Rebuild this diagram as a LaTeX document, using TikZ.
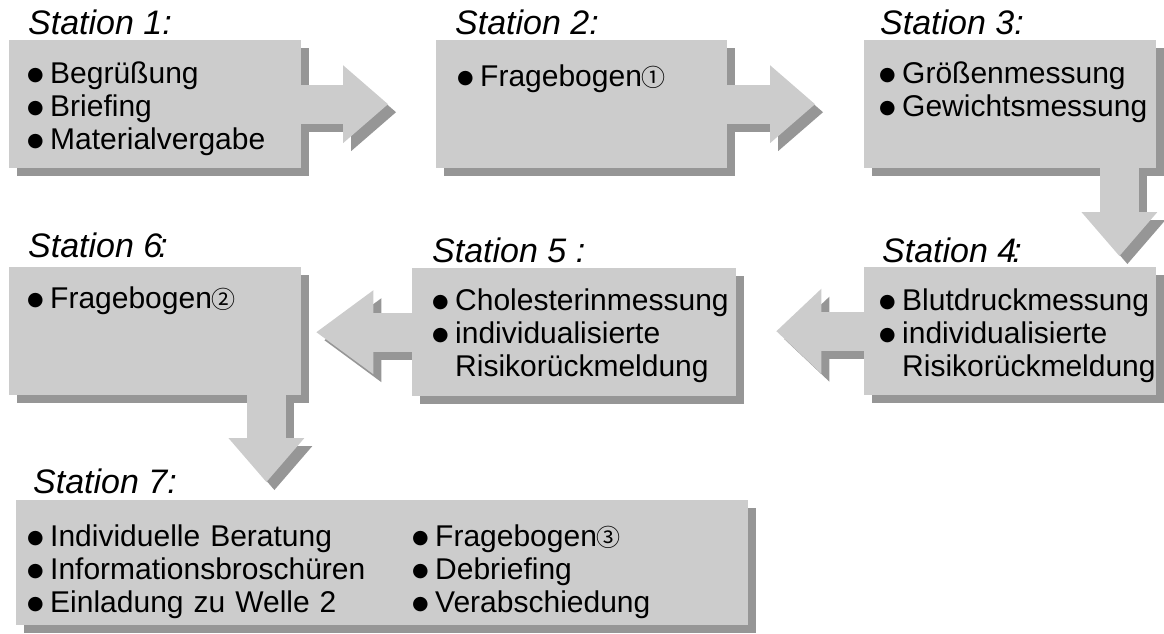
\documentclass[tikz,border=0pt]{standalone}
\usepackage{fontspec}
\setmainfont{Liberation Sans}
\newfontfamily\symfont{DejaVu Sans}
\newfontfamily\cjk{Noto Sans CJK JP}
\usetikzlibrary{arrows.meta}
\definecolor{BoxGray}{RGB}{204,204,204}
\definecolor{ShadeGray}{RGB}{150,150,150}
\pgfdeclarelayer{shade}
\pgfdeclarelayer{flows}
\pgfsetlayers{shade,flows,main}
\hyphenpenalty=10000
\newcommand\bodyfont{\fontsize{30}{33}\selectfont}
\newcommand\stationfont{\fontsize{34}{40}\selectfont\itshape}
\newcommand\bul{\makebox[23pt][l]{\raisebox{3pt}{\symfont\fontsize{19}{19}\selectfont ●}}}
\newcommand\nobul{\hspace*{23pt}}
\newcommand\circnum[1]{{\cjk\fontsize{24}{24}\selectfont #1}}

\begin{document}
\begin{tikzpicture}[x=1pt,y=-1pt,
  stationbox/.style={fill=BoxGray, anchor=north west, inner ysep=0pt, align=left,
    font=\bodyfont, text height=43pt, text depth=85pt},
  stationlabel/.style={anchor=base west, inner sep=0pt, font=\stationfont},
  flowface/.style={draw=BoxGray, line width=39pt},
  flowshade/.style={draw=ShadeGray, line width=39pt, transform canvas={xshift=8pt,yshift=-8pt}},
  flowtip/.style 2 args={-{Triangle[length=#1,width=#2,line width=0pt]}}]
  \useasboundingbox (0,0) rectangle (1164,634);

  % Stations, top row
  \node[stationbox, text width=256pt, inner xsep=18pt] (s1) at (9,40)
    {\bul Begrüßung\\\bul Briefing\\\bul Materialvergabe};
  \node[stationbox, text width=249pt, inner xsep=21pt, text height=46pt, text depth=82pt] (s2) at (436,40)
    {\bul Fragebogen\circnum{①}};
  \node[stationbox, text width=262pt, inner xsep=15pt] (s3) at (864,40)
    {\bul Größenmessung\\\bul Gewichtsmessung};

  % Stations, middle row
  \node[stationbox, text width=262pt, inner xsep=15pt] (s4) at (864,267)
    {\bul Blutdruckmessung\\\bul individualisierte\\\nobul Risikorückmeldung};
  \node[stationbox, text width=284pt, inner xsep=20pt, text height=42pt, text depth=86pt] (s5) at (412,268)
    {\bul Cholesterinmessung\\\bul individualisierte\\\nobul Risikorückmeldung};
  \node[stationbox, text width=256pt, inner xsep=18pt, text height=41pt, text depth=87pt] (s6) at (9,267)
    {\bul Fragebogen\circnum{②}};

  % Station 7
  \node[stationbox, text width=710pt, inner xsep=11pt, text height=46pt, text depth=79pt] (s7) at (16,500)
    {\begin{tabular}[t]{@{}p{385pt}@{}l@{}}
      \bul Individuelle Beratung & \bul Fragebogen\circnum{③}\\
      \bul Informationsbroschüren & \bul Debriefing\\
      \bul Einladung zu Welle 2 & \bul Verabschiedung
    \end{tabular}};

  % Labels
  \node[stationlabel] (l1) at ([xshift=19pt,yshift=5pt]s1.north west) {Station 1:};
  \node[stationlabel] (l2) at ([xshift=19pt,yshift=5pt]s2.north west) {Station 2:};
  \node[stationlabel] (l3) at ([xshift=16pt,yshift=5pt]s3.north west) {Station 3:};
  \node[stationlabel] (l4) at ([xshift=18pt,yshift=5pt]s4.north west) {Station 4\kern-4pt:};
  \node[stationlabel] (l5) at ([xshift=20pt,yshift=6pt]s5.north west) {Station 5 :};
  \node[stationlabel] (l6) at ([xshift=19pt,yshift=10pt]s6.north west) {Station 6\kern-4pt:};
  \node[stationlabel] (l7) at ([xshift=17pt,yshift=7pt]s7.north west) {Station 7:};

  \coordinate (c34) at ([xshift=-37pt]s3.south east);
  \coordinate (c67) at ([xshift=-35pt]s6.south east);

  % Shadows
  \begin{pgfonlayer}{shade}
    \foreach \s in {s1,s2,s3,s4,s5,s6,s7}
      \fill[ShadeGray] ([shift={(8,8)}]\s.north west) rectangle ([shift={(8,8)}]\s.south east);
    \draw[flowshade, flowtip={45pt}{78pt}, shorten >=48pt] (s1.east) -- (s2.west);
    \draw[flowshade, flowtip={45pt}{78pt}, shorten >=49pt] (s2.east) -- (s3.west);
    \draw[flowshade, flowtip={44pt}{76pt}, shorten >=11pt] (c34) -- (c34 |- s4.north);
    \draw[flowshade, flowtip={45pt}{85pt}, shorten >=40pt] (s4.west) -- (s4.west -| s5.east);
    \draw[flowshade, flowtip={57pt}{84pt}, shorten >=15pt] (s5.west) -- (s5.west -| s6.east);
    \draw[flowshade, flowtip={44pt}{76pt}, shorten >=18pt] (c67) -- (c67 |- s7.north);
  \end{pgfonlayer}

  % Block arrows
  \begin{pgfonlayer}{flows}
    \draw[flowface, flowtip={45pt}{78pt}, shorten >=48pt] (s1.east) -- (s2.west);
    \draw[flowface, flowtip={45pt}{78pt}, shorten >=49pt] (s2.east) -- (s3.west);
    \draw[flowface, flowtip={44pt}{76pt}, shorten >=11pt] (c34) -- (c34 |- s4.north);
    \draw[flowface, flowtip={45pt}{85pt}, shorten >=40pt] (s4.west) -- (s4.west -| s5.east);
    \draw[flowface, flowtip={57pt}{84pt}, shorten >=15pt] (s5.west) -- (s5.west -| s6.east);
    \draw[flowface, flowtip={44pt}{76pt}, shorten >=18pt] (c67) -- (c67 |- s7.north);
  \end{pgfonlayer}
\end{tikzpicture}
\end{document}
